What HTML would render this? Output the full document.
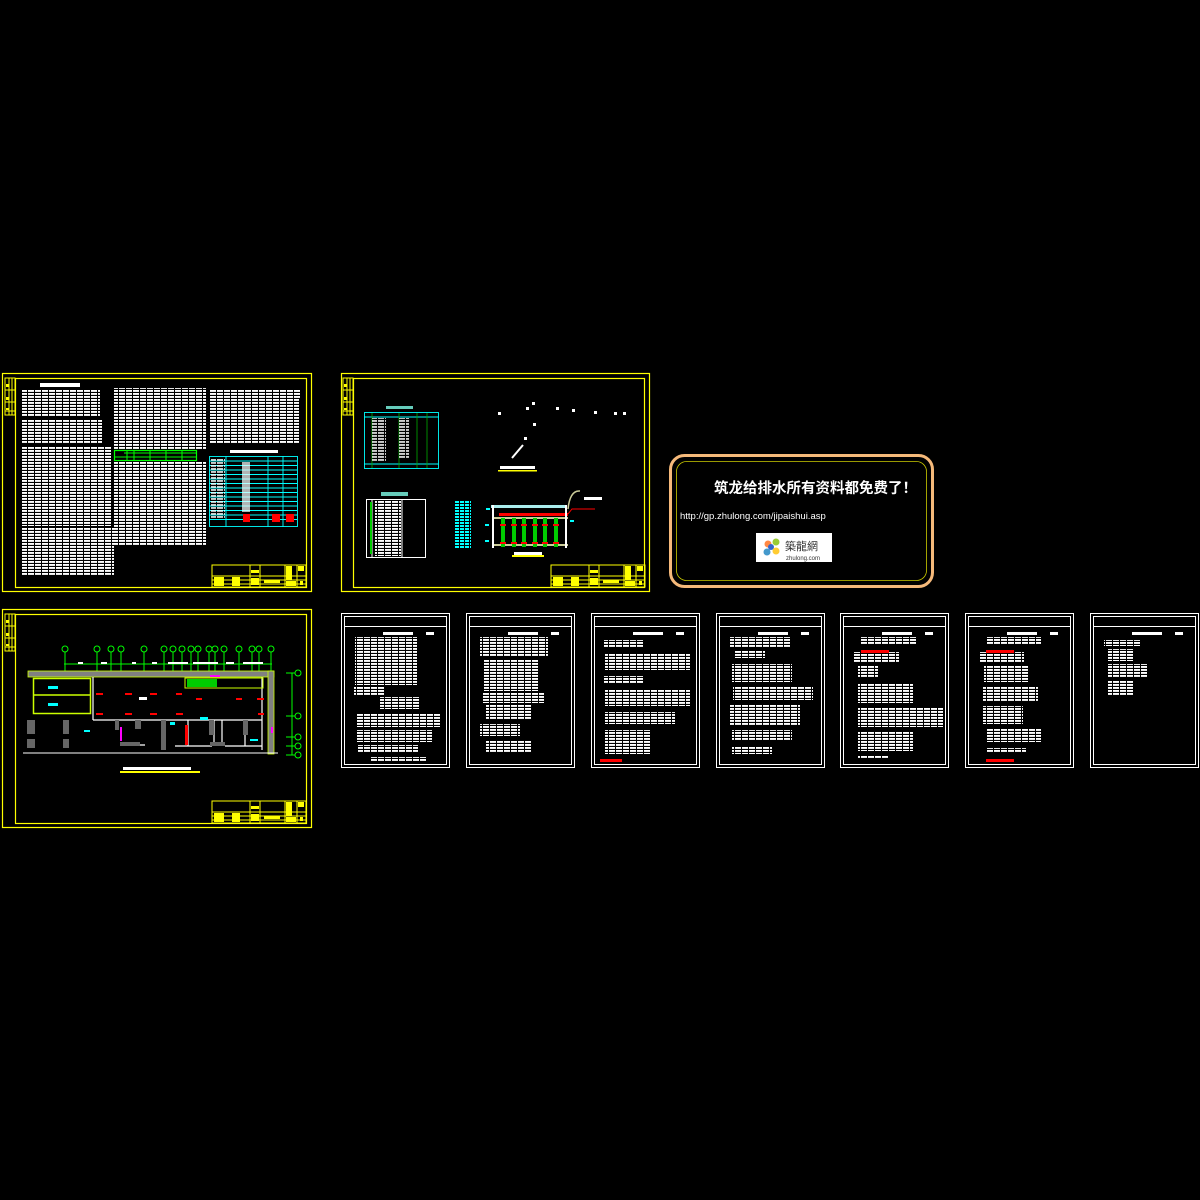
<!DOCTYPE html>
<html><head><meta charset="utf-8">
<style>
html,body{margin:0;padding:0;background:#000;}
svg{display:block}
.t{font-family:"Liberation Sans","Noto Sans CJK SC","WenQuanYi Zen Hei",sans-serif;}
</style></head>
<body>
<svg width="1200" height="1200" viewBox="0 0 1200 1200" xmlns="http://www.w3.org/2000/svg">
<defs>
 <pattern id="tx" width="7" height="3" patternUnits="userSpaceOnUse">
  <rect x="0" y="0" width="6" height="1.9" fill="#fff"/>
 </pattern>
 <pattern id="tx2" width="9" height="4.4" patternUnits="userSpaceOnUse">
  <rect x="0" y="0" width="8" height="1.6" fill="#fff"/>
 </pattern>
 <pattern id="txc" width="5" height="3" patternUnits="userSpaceOnUse">
  <rect x="0" y="0" width="4" height="2" fill="#0ff"/>
 </pattern>
 <g id="tb">
  <rect x="0" y="0" width="94" height="22" fill="none" stroke="#ff0" stroke-width="1"/>
  <line x1="38" y1="0" x2="38" y2="22" stroke="#ff0"/>
  <line x1="48" y1="0" x2="48" y2="22" stroke="#ff0"/>
  <line x1="73" y1="0" x2="73" y2="22" stroke="#ff0"/>
  <line x1="85" y1="0" x2="85" y2="22" stroke="#ff0"/>
  <line x1="0" y1="11" x2="94" y2="11" stroke="#ff0"/>
  <line x1="0" y1="15" x2="94" y2="15" stroke="#ff0"/>
  <line x1="0" y1="19" x2="94" y2="19" stroke="#ff0"/>
  <rect x="2" y="12" width="10" height="9" fill="#ff0"/>
  <rect x="20" y="12" width="8" height="9" fill="#ff0"/>
  <rect x="39" y="5" width="8" height="3" fill="#ff0"/>
  <rect x="39" y="13" width="8" height="7" fill="#ff0"/>
  <rect x="52" y="15" width="16" height="3" fill="#ff0"/>
  <rect x="74" y="1" width="6" height="14" fill="#ff0"/>
  <rect x="86" y="1" width="6" height="5" fill="#ff0"/>
  <rect x="74" y="16" width="10" height="5" fill="#ff0"/>
  <rect x="88" y="16" width="3" height="4" fill="#ff0"/>
 </g>
 <g id="ls">
  <rect x="0" y="0" width="10" height="37" fill="none" stroke="#ff0"/>
  <line x1="4" y1="0" x2="4" y2="37" stroke="#ff0"/>
  <line x1="7" y1="0" x2="7" y2="37" stroke="#ff0"/>
  <line x1="0" y1="12" x2="10" y2="12" stroke="#ff0"/>
  <line x1="0" y1="24" x2="10" y2="24" stroke="#ff0"/>
  <line x1="0" y1="33" x2="10" y2="33" stroke="#ff0"/>
  <rect x="1" y="6" width="2.5" height="3" fill="#ff0"/>
  <rect x="1" y="19" width="2.5" height="3" fill="#ff0"/>
  <rect x="1" y="30" width="2.5" height="2" fill="#ff0"/>
 </g>
 <g id="ss">
  <rect x="0.5" y="0.5" width="108" height="154" fill="none" stroke="#fff" stroke-width="1"/>
  <rect x="3.5" y="3.5" width="102" height="148" fill="none" stroke="#fff" stroke-width="1"/>
  <line x1="3.5" y1="13.5" x2="105.5" y2="13.5" stroke="#fff"/>
  <rect x="42" y="19" width="30" height="3" fill="#fff"/>
  <rect x="85" y="19" width="8" height="3" fill="#fff"/>
 </g>
</defs>
<rect width="1200" height="1200" fill="#000"/>

<!-- Sheet 1 -->
<rect x="2.5" y="373.5" width="309" height="218" fill="none" stroke="#ff0" stroke-width="1.2"/>
<rect x="15.5" y="378.5" width="291" height="209" fill="none" stroke="#ff0" stroke-width="1.2"/>
<use href="#ls" x="5" y="378"/>
<use href="#tb" x="212" y="565"/>
<rect x="40" y="383" width="40" height="4" fill="#fff"/>
<rect x="22" y="389" width="78" height="28" fill="url(#tx)"/>
<rect x="22" y="419" width="80" height="25" fill="url(#tx)"/>
<rect x="22" y="446" width="90" height="80" fill="url(#tx)"/>
<rect x="22" y="528" width="92" height="48" fill="url(#tx)"/>
<rect x="114" y="388" width="92" height="62" fill="url(#tx)"/>
<rect x="114" y="462" width="92" height="83" fill="url(#tx)"/>
<rect x="209" y="390" width="92" height="8" fill="url(#tx)"/>
<rect x="209" y="398" width="90" height="45" fill="url(#tx)"/>
<rect x="230" y="450" width="48" height="3" fill="#fff"/>
<rect x="114.5" y="450.5" width="82" height="10" fill="none" stroke="#0f0" stroke-width="1.2"/>
<line x1="124" y1="453" x2="196" y2="453" stroke="#0f0"/><line x1="114" y1="457" x2="196" y2="457" stroke="#0f0"/>
<line x1="127" y1="450" x2="127" y2="461" stroke="#0f0"/><line x1="134" y1="450" x2="134" y2="461" stroke="#0f0"/><line x1="150" y1="450" x2="150" y2="461" stroke="#0f0"/><line x1="166" y1="450" x2="166" y2="461" stroke="#0f0"/><line x1="182" y1="450" x2="182" y2="461" stroke="#0f0"/>
<g stroke="#0ff" stroke-width="0.9" fill="none">
 <rect x="209.5" y="456.5" width="88" height="70"/>
 <line x1="226" y1="456" x2="226" y2="527"/><line x1="268" y1="456" x2="268" y2="527"/><line x1="283" y1="456" x2="283" y2="527"/>
 <line x1="209" y1="461" x2="297" y2="461"/><line x1="209" y1="465.5" x2="297" y2="465.5"/><line x1="209" y1="470" x2="297" y2="470"/><line x1="209" y1="474.5" x2="297" y2="474.5"/><line x1="209" y1="479" x2="297" y2="479"/><line x1="209" y1="483.5" x2="297" y2="483.5"/><line x1="209" y1="488" x2="297" y2="488"/><line x1="209" y1="492.5" x2="297" y2="492.5"/><line x1="209" y1="497" x2="297" y2="497"/><line x1="209" y1="501.5" x2="297" y2="501.5"/><line x1="209" y1="506" x2="297" y2="506"/><line x1="209" y1="510.5" x2="297" y2="510.5"/><line x1="209" y1="515" x2="297" y2="515"/><line x1="209" y1="519.5" x2="297" y2="519.5"/>
</g>
<rect x="211" y="458" width="14" height="60" fill="url(#tx)" opacity="0.8"/>
<rect x="242" y="462" width="8" height="50" fill="#fff" opacity="0.7"/>
<rect x="243" y="514" width="7" height="8" fill="#f00"/>
<rect x="272" y="514" width="8" height="8" fill="#f00"/><rect x="286" y="514" width="8" height="8" fill="#f00"/>

<!-- Sheet 2 -->
<rect x="2.5" y="609.5" width="309" height="218" fill="none" stroke="#ff0" stroke-width="1.2"/>
<rect x="15.5" y="614.5" width="291" height="209" fill="none" stroke="#ff0" stroke-width="1.2"/>
<use href="#ls" x="5" y="614"/>
<use href="#tb" x="212" y="801"/>
<line x1="64" y1="664" x2="272" y2="664" stroke="#0f0" stroke-width="1"/>
<g stroke="#0f0" stroke-width="1" fill="none">
 <circle cx="65" cy="649" r="3"/><circle cx="97" cy="649" r="3"/><circle cx="111" cy="649" r="3"/><circle cx="121" cy="649" r="3"/><circle cx="144" cy="649" r="3"/><circle cx="164" cy="649" r="3"/><circle cx="173" cy="649" r="3"/><circle cx="182" cy="649" r="3"/><circle cx="191" cy="649" r="3"/><circle cx="198" cy="649" r="3"/><circle cx="209" cy="649" r="3"/><circle cx="215" cy="649" r="3"/><circle cx="224" cy="649" r="3"/><circle cx="239" cy="649" r="3"/><circle cx="252" cy="649" r="3"/><circle cx="259" cy="649" r="3"/><circle cx="271" cy="649" r="3"/>
 <path d="M65 652V672M97 652V672M111 652V672M121 652V672M144 652V672M164 652V672M173 652V672M182 652V672M191 652V672M198 652V672M209 652V672M215 652V672M224 652V672M239 652V672M252 652V672M259 652V672M271 652V672"/>
 <circle cx="298" cy="673" r="3"/><circle cx="298" cy="716" r="3"/><circle cx="298" cy="737" r="3"/><circle cx="298" cy="746" r="3"/><circle cx="298" cy="755" r="3"/>
 <path d="M292 673V755M286 673H295M286 716H295M286 737H295M286 746H295M286 755H295"/>
</g>
<g fill="#fff"><rect x="78" y="662" width="5" height="2"/><rect x="101" y="662" width="6" height="2"/><rect x="132" y="662" width="4" height="2"/><rect x="152" y="662" width="5" height="2"/><rect x="168" y="662" width="20" height="2"/><rect x="193" y="662" width="25" height="2"/><rect x="226" y="662" width="8" height="2"/><rect x="243" y="662" width="20" height="2"/></g>
<rect x="28" y="671" width="246" height="6" fill="#808080" stroke="#cf0" stroke-width="0.8"/>
<rect x="268" y="671" width="6" height="83" fill="#808080" stroke="#cf0" stroke-width="0.8"/>
<line x1="23" y1="753" x2="278" y2="753" stroke="#fff" stroke-width="1"/>
<rect x="33.5" y="678.5" width="57" height="35" fill="none" stroke="#cf0" stroke-width="1.5"/>
<line x1="33" y1="695" x2="91" y2="695" stroke="#cf0" stroke-width="1.5"/>
<rect x="48" y="686" width="10" height="3" fill="#0ff"/><rect x="48" y="703" width="10" height="3" fill="#0ff"/>
<g stroke="#fff" stroke-width="1.2" fill="none">
 <path d="M93 677V720M93 720H262M188 720V746M214 720V746M222 720V746M245 720V746M262 677V750M175 746H212M225 746H262M130 745H145"/>
</g>
<g fill="#666"><rect x="27" y="720" width="8" height="14"/><rect x="27" y="739" width="8" height="9"/><rect x="63" y="720" width="6" height="14"/><rect x="63" y="739" width="6" height="9"/><rect x="115" y="720" width="4" height="10"/><rect x="135" y="720" width="6" height="9"/><rect x="161" y="720" width="5" height="30"/><rect x="209" y="720" width="5" height="15"/><rect x="243" y="720" width="5" height="15"/><rect x="120" y="742" width="20" height="4"/><rect x="210" y="742" width="15" height="4"/></g>
<g fill="#f00"><rect x="96" y="693" width="7" height="2"/><rect x="125" y="693" width="7" height="2"/><rect x="150" y="693" width="7" height="2"/><rect x="176" y="693" width="6" height="2"/><rect x="96" y="713" width="7" height="2"/><rect x="125" y="713" width="7" height="2"/><rect x="150" y="713" width="7" height="2"/><rect x="176" y="713" width="7" height="2"/><rect x="196" y="698" width="6" height="2"/><rect x="236" y="698" width="6" height="2"/><rect x="257" y="698" width="7" height="2"/><rect x="258" y="713" width="6" height="2"/><rect x="185" y="725" width="3" height="20"/></g>
<rect x="185" y="678" width="78" height="10" fill="none" stroke="#cf0" stroke-width="1"/>
<rect x="187" y="679" width="30" height="8" fill="#0c0"/>
<rect x="210" y="675" width="10" height="2" fill="#f0f"/>
<rect x="120" y="727" width="2" height="14" fill="#f0f"/><rect x="271" y="727" width="2" height="6" fill="#f0f"/>
<g fill="#0ff"><rect x="84" y="730" width="6" height="2"/><rect x="200" y="717" width="8" height="3"/><rect x="170" y="722" width="5" height="3"/><rect x="250" y="739" width="8" height="2"/></g>
<rect x="139" y="697" width="8" height="3" fill="#fff"/>
<rect x="123" y="767" width="68" height="3" fill="#fff"/><rect x="120" y="771" width="80" height="2" fill="#ff0"/>

<!-- Sheet 3 -->
<rect x="341.5" y="373.5" width="308" height="218" fill="none" stroke="#ff0" stroke-width="1.2"/>
<rect x="353.5" y="378.5" width="291" height="209" fill="none" stroke="#ff0" stroke-width="1.2"/>
<use href="#ls" x="343" y="378"/>
<use href="#tb" x="551" y="565"/>
<rect x="386" y="406" width="27" height="3" fill="#6cb"/>
<g stroke="#0ff" stroke-width="0.9" fill="none">
 <rect x="364.5" y="412.5" width="74" height="56"/>
 <line x1="364" y1="417" x2="439" y2="417"/><line x1="364" y1="464" x2="439" y2="464"/>
</g>
<g stroke="#0a0" stroke-width="0.8"><line x1="372" y1="413" x2="372" y2="468"/><line x1="399" y1="413" x2="399" y2="468"/><line x1="417" y1="413" x2="417" y2="468"/><line x1="427" y1="413" x2="427" y2="468"/></g>
<rect x="372" y="418" width="14" height="44" fill="url(#tx)" opacity="0.8"/><rect x="399" y="418" width="10" height="40" fill="url(#tx)" opacity="0.8"/>
<rect x="381" y="492" width="27" height="4" fill="#6cb"/>
<rect x="366.5" y="499.5" width="59" height="58" fill="none" stroke="#fff" stroke-width="1"/>
<line x1="372" y1="499" x2="372" y2="558" stroke="#fff"/><line x1="402" y1="499" x2="402" y2="558" stroke="#fff"/>
<rect x="375" y="501" width="26" height="55" fill="url(#tx)"/>
<rect x="370" y="502" width="2" height="52" fill="#0c0"/>
<rect x="455" y="500" width="16" height="49" fill="url(#txc)"/>
<g fill="#fff"><rect x="532" y="402" width="3" height="3"/><rect x="526" y="407" width="3" height="3"/><rect x="498" y="412" width="3" height="3"/><rect x="556" y="407" width="3" height="3"/><rect x="572" y="409" width="3" height="3"/><rect x="594" y="411" width="3" height="3"/><rect x="614" y="412" width="3" height="3"/><rect x="623" y="412" width="3" height="3"/><rect x="533" y="423" width="3" height="3"/><rect x="524" y="437" width="3" height="3"/></g>
<path d="M512 458L523 445" stroke="#fff" stroke-width="2"/>
<rect x="500" y="466" width="35" height="3" fill="#fff"/><rect x="498" y="470" width="39" height="1.5" fill="#ff0"/>
<g>
 <rect x="491" y="505" width="76" height="3" fill="#aee"/>
 <rect x="499" y="513" width="69" height="3" fill="#f00"/>
 <rect x="493" y="517" width="75" height="2" fill="#cc9"/>
 <rect x="493" y="544" width="75" height="2" fill="#cc9"/>
 <rect x="492" y="505" width="2" height="43" fill="#fff"/><rect x="565" y="505" width="2" height="43" fill="#fff"/>
 <g fill="#0c0"><rect x="501" y="518" width="4" height="29"/><rect x="512" y="518" width="4" height="29"/><rect x="522" y="518" width="4" height="29"/><rect x="533" y="518" width="4" height="29"/><rect x="543" y="518" width="4" height="29"/><rect x="554" y="518" width="4" height="29"/></g>
 <g fill="#f00"><rect x="500" y="524" width="6" height="2"/><rect x="511" y="524" width="6" height="2"/><rect x="521" y="524" width="6" height="2"/><rect x="532" y="524" width="6" height="2"/><rect x="542" y="524" width="6" height="2"/><rect x="553" y="524" width="6" height="2"/><rect x="500" y="542" width="6" height="2"/><rect x="511" y="542" width="6" height="2"/><rect x="521" y="542" width="6" height="2"/><rect x="532" y="542" width="6" height="2"/><rect x="542" y="542" width="6" height="2"/><rect x="553" y="542" width="6" height="2"/></g>
 <path d="M568 509Q570 490 580 491" stroke="#cc9" fill="none" stroke-width="1.5"/>
 <path d="M568 514L572 509H595" stroke="#f00" fill="none"/>
 <rect x="584" y="497" width="18" height="3" fill="#fff"/>
 <g fill="#0ff"><rect x="486" y="508" width="4" height="2"/><rect x="485" y="524" width="4" height="2"/><rect x="485" y="540" width="4" height="2"/><rect x="570" y="520" width="4" height="2"/></g>
 <rect x="514" y="552" width="28" height="3" fill="#fff"/><rect x="512" y="555" width="32" height="2" fill="#ff0"/>
</g>

<!-- Ad box -->
<rect x="670.5" y="455.5" width="262" height="131" rx="14" fill="#000" stroke="#f5b97a" stroke-width="3"/>
<rect x="676.5" y="461.5" width="250" height="119" rx="10" fill="none" stroke="#cc0" stroke-width="0.8"/>
<text class="t" x="714" y="493" fill="#fff" font-size="14.5" font-weight="bold">筑龙给排水所有资料都免费了！</text>
<text class="t" x="680" y="519" fill="#fff" font-size="9.5" font-family="Liberation Mono,monospace">http://gp.zhulong.com/jipaishui.asp</text>
<rect x="756" y="533" width="76" height="29" fill="#fff"/>
<circle cx="768" cy="544" r="3.5" fill="#f84"/><circle cx="776" cy="542" r="3.5" fill="#9c3"/><circle cx="767" cy="552" r="3.5" fill="#49c"/><circle cx="776" cy="551" r="3.5" fill="#fc3"/><circle cx="771" cy="547" r="3" fill="#36c"/>
<text class="t" x="785" y="550" fill="#333" font-size="11">築龍網</text>
<text class="t" x="786" y="560" fill="#333" font-size="6">zhulong.com</text>

<!-- Small sheets -->
<use href="#ss" x="341" y="613"/>
<use href="#ss" x="466" y="613"/>
<use href="#ss" x="591" y="613"/>
<use href="#ss" x="716" y="613"/>
<use href="#ss" x="840" y="613"/>
<use href="#ss" x="965" y="613"/>
<use href="#ss" x="1090" y="613"/>

<g fill="url(#tx)">
 <rect x="355" y="637" width="62" height="48"/><rect x="354" y="686" width="30" height="10"/>
 <rect x="380" y="697" width="40" height="12"/><rect x="357" y="713" width="84" height="14"/>
 <rect x="357" y="730" width="75" height="12"/><rect x="358" y="745" width="60" height="8"/><rect x="370" y="757" width="56" height="4"/>

 <rect x="480" y="637" width="68" height="20"/><rect x="484" y="659" width="55" height="32"/>
 <rect x="482" y="693" width="62" height="10"/><rect x="486" y="705" width="45" height="14"/>
 <rect x="480" y="724" width="40" height="12"/><rect x="486" y="740" width="45" height="12"/>

 <rect x="604" y="640" width="40" height="8"/><rect x="605" y="654" width="85" height="16"/>
 <rect x="604" y="676" width="40" height="8"/><rect x="605" y="690" width="85" height="16"/>
 <rect x="605" y="712" width="70" height="12"/><rect x="605" y="730" width="45" height="24"/>

 <rect x="730" y="637" width="60" height="10"/><rect x="735" y="650" width="30" height="8"/>
 <rect x="732" y="664" width="60" height="18"/><rect x="733" y="686" width="80" height="14"/>
 <rect x="730" y="705" width="70" height="20"/><rect x="732" y="730" width="60" height="10"/><rect x="732" y="746" width="40" height="8"/>

 <rect x="861" y="637" width="55" height="8"/><rect x="854" y="652" width="45" height="10"/>
 <rect x="858" y="666" width="20" height="12"/><rect x="858" y="683" width="55" height="20"/>
 <rect x="858" y="707" width="85" height="20"/><rect x="858" y="731" width="55" height="20"/><rect x="858" y="755" width="30" height="3"/>

 <rect x="986" y="637" width="55" height="8"/><rect x="979" y="652" width="45" height="10"/>
 <rect x="984" y="666" width="45" height="16"/><rect x="983" y="686" width="55" height="16"/>
 <rect x="983" y="706" width="40" height="18"/><rect x="986" y="728" width="55" height="14"/><rect x="986" y="748" width="40" height="4"/>

 <rect x="1104" y="640" width="36" height="6"/><rect x="1108" y="649" width="25" height="12"/>
 <rect x="1108" y="664" width="40" height="14"/><rect x="1108" y="680" width="25" height="16"/>
</g>
<rect x="600" y="759" width="22" height="3" fill="#f00"/>
<rect x="861" y="650" width="28" height="3" fill="#f00"/>
<rect x="986" y="650" width="28" height="3" fill="#f00"/>
<rect x="986" y="759" width="28" height="3" fill="#f00"/>
</svg>
</body></html>
